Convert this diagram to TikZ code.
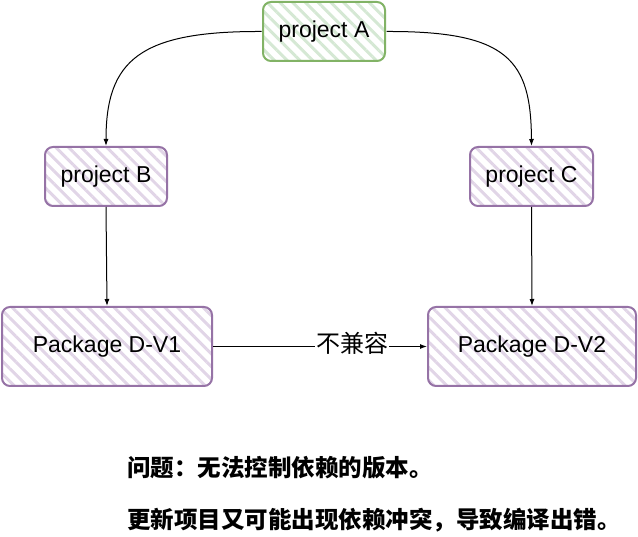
\documentclass[tikz,border=0pt]{standalone}
\usepackage{fontspec}
\setmainfont{Liberation Sans}
\newfontfamily\cjk{Noto Sans CJK SC}
\usetikzlibrary{patterns.meta,arrows.meta}
\definecolor{gstroke}{HTML}{82B366}
\definecolor{gfill}{HTML}{D5E8D4}
\definecolor{pstroke}{HTML}{9673A6}
\definecolor{pfill}{HTML}{E1D5E7}
\tikzset{
  box/.style={draw, line width=2pt, rounded corners=8pt, minimum width=#1, inner sep=0pt, font=\fontsize{23}{27}\selectfont},
  gbox/.style={box=122pt, minimum height=59pt, draw=gstroke, pattern={Lines[angle=-45,distance=9pt,line width=3pt]}, pattern color=gfill},
  pbox/.style={box=#1, draw=pstroke, pattern={Lines[angle=-45,distance=9pt,line width=3pt]}, pattern color=pfill},
  conn/.style={draw=black, line width=1pt, -{Latex[length=7pt,width=5pt]}},
  note/.style={anchor=west, font=\cjk\bfseries\fontsize{23.5}{27}\selectfont, inner sep=0pt}
}
\begin{document}
\begin{tikzpicture}[x=1pt,y=-1pt]
\useasboundingbox (0,0) rectangle (638,537);
\node[gbox] (A) at (324,31.5) {project A};
\node[pbox=122pt, minimum height=59pt] (B) at (106,176.5) {project B};
\node[pbox=123pt, minimum height=59pt] (C) at (531.5,176.5) {project C};
\node[pbox=210pt, minimum height=79pt] (D1) at (107,346.5) {Package D-V1};
\node[pbox=208pt, minimum height=79pt] (D2) at (532,346.5) {Package D-V2};
\draw[conn] (A.west) .. controls (140,31) and (106,60) .. (B.north);
\draw[conn] (A.east) .. controls (508,31) and (531,60) .. (C.north);
\draw[conn] (B.south) -- (D1.north);
\draw[conn] (C.south) -- (D2.north);
\draw[conn] (D1.east) -- node[fill=white, inner sep=1pt, font=\cjk\fontsize{24}{28}\selectfont, xshift=32pt, yshift=3pt] (L) {不兼容} (D2.west);
\node[note] (N1) at (127,468) {问题：无法控制依赖的版本。};
\node[note] (N2) at (127,520) {更新项目又可能出现依赖冲突，导致编译出错。};
\end{tikzpicture}
\end{document}
